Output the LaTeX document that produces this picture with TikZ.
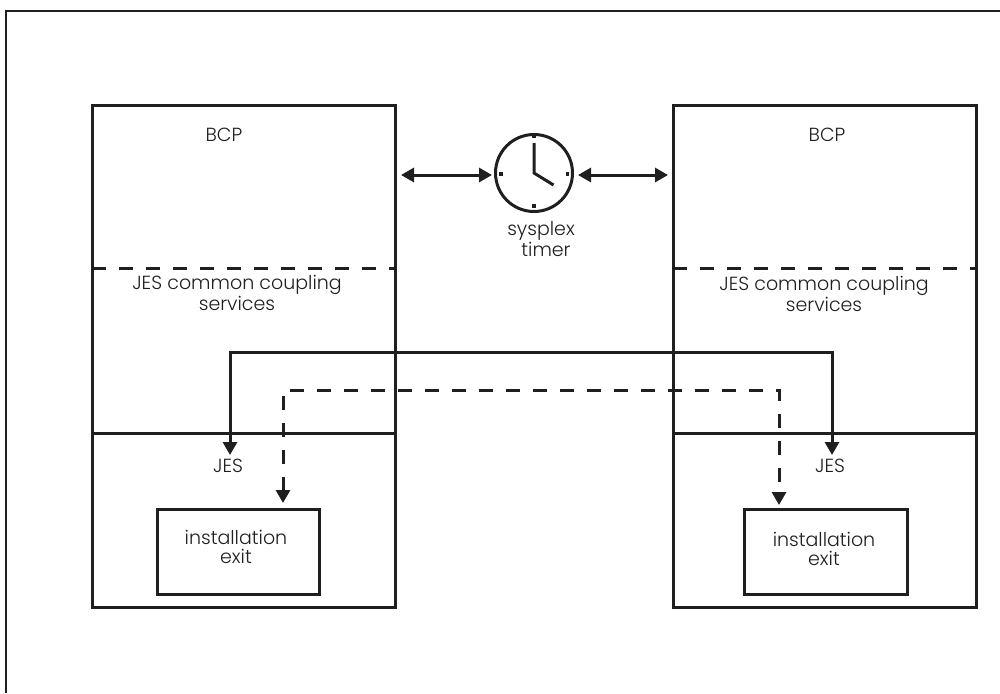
\documentclass[tikz,border=0pt]{standalone}
\usepackage{fontspec}
\setmainfont{Poppins}[UprightFont=* Light]
\usetikzlibrary{arrows.meta}
\definecolor{ink}{gray}{0.12}
\tikzset{
  x=1pt,y=-1pt,
  region/.style={draw=ink,line width=3pt,anchor=north west,inner sep=0pt,outer sep=0pt},
  label/.style={text=ink,font=\fontsize{19}{18.5}\selectfont,align=center,inner sep=0pt},
  flow/.style={draw=ink,line width=3pt},
  both/.style={draw=ink,line width=3pt,{Triangle[length=13pt,width=14pt]}-{Triangle[length=13pt,width=14pt]}},
  dashline/.style={dash pattern=on 14pt off 13pt},
  tick/.style={fill=ink,minimum size=3.8pt,inner sep=0pt},
}
\begin{document}
\begin{tikzpicture}
\useasboundingbox (0,0) rectangle (1000,693);
\draw[ink,line width=1.8pt] (6,693) -- (6,11) -- (1000,11);
% left system
\node[region,minimum width=303pt,minimum height=328pt] (lbcp) at (92,105) {};
\node[region,minimum width=303pt,minimum height=174pt] (ljes) at (92,433) {};
\node[region,minimum width=162pt,minimum height=85pt] (lexit) at (157,509) {};
\coordinate (ldl) at (92,268.5);
\coordinate (ldr) at (395,268.5);
\draw[flow,dashline] (ldl) -- (ldr);
% right system
\node[region,minimum width=303pt,minimum height=328pt] (rbcp) at (673,105) {};
\node[region,minimum width=303pt,minimum height=174pt] (rjes) at (673,433) {};
\node[region,minimum width=163pt,minimum height=85pt] (rexit) at (744,509) {};
\coordinate (rdl) at (673,268.5);
\coordinate (rdr) at (976,268.5);
\draw[flow,dashline] (rdl) -- (rdr);
% labels
\node[label] (lbcpt) at (224,135) {BCP};
\node[label] (rbcpt) at (827,135) {BCP};
\node[label] (lcct) at (237,293) {JES common coupling\\services};
\node[label] (rcct) at (824,294) {JES common coupling\\services};
\node[label] (ljest) at (228,466) {JES};
\node[label] (rjest) at (830,466) {JES};
\node[label] (lext) at (236,547) {installation\\exit};
\node[label] (rext) at (824,549) {installation\\exit};
\node[label] (timert) at (541,239) {sysplex\\\hspace{10pt}timer};
% clock
\node[circle,draw=ink,line width=3pt,minimum size=77pt,inner sep=0pt] (clock) at (534,173) {};
\coordinate (minute) at (534,143);
\coordinate (hour) at (553.5,185);
\draw[flow] (minute) -- (clock.center) -- (hour);
\node[tick] (t1) at (534,136.5) {};
\node[tick] (t2) at (534,206) {};
\node[tick] (t3) at (501,174) {};
\node[tick] (t4) at (567.5,174) {};
% timer arrows
\coordinate (al1) at (401,175);
\coordinate (al2) at (492,175);
\coordinate (ar1) at (578,175);
\coordinate (ar2) at (668,175);
\draw[both] (al1) -- (al2);
\draw[both] (ar1) -- (ar2);
% connectors
\coordinate (sl) at (230,455);
\coordinate (sr) at (832,455);
\coordinate (st) at (530,352);
\draw[both] (sl) |- (st) -| (sr);
\coordinate (dl) at (283,503);
\coordinate (dr) at (779,505);
\coordinate (dt) at (530,390);
\draw[both,dashline] (dl) |- (dt) -| (dr);
\end{tikzpicture}
\end{document}
